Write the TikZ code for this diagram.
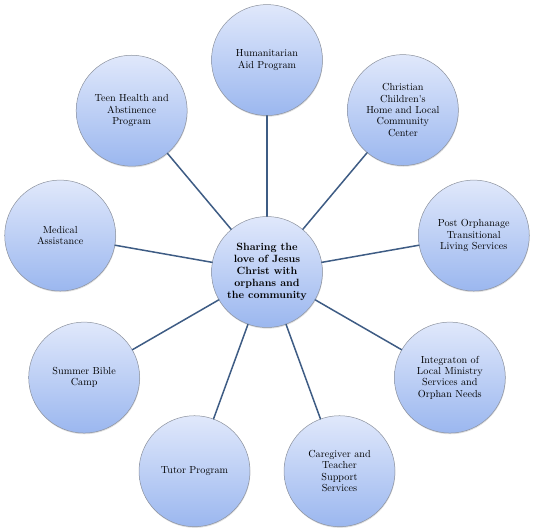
\documentclass[tikz,border=0pt]{standalone}
\usepackage{tikz}
\usetikzlibrary{
  positioning,
  shadows
}

\definecolor{ringtop}{RGB}{224,232,251}
\definecolor{ringbot}{RGB}{155,183,239}
\definecolor{ringedge}{RGB}{140,146,158}
\definecolor{spokeline}{RGB}{62,92,132}

\begin{document}
\begin{tikzpicture}[
  x=1cm, y=1cm,
  line cap=round,
  line join=round,
  hub/.style={
    draw=ringedge,
    circle,
    line width=0.5pt,
    top color=ringtop,
    bottom color=ringbot,
    minimum size=3.9cm,
    inner sep=1pt,
    align=center,
    font=\fontsize{10.5}{12}\selectfont\bfseries,
    drop shadow={shadow xshift=0.4pt, shadow yshift=-1.2pt, opacity=0.25}
  },
  spoke/.style={
    draw=ringedge,
    circle,
    line width=0.5pt,
    top color=ringtop,
    bottom color=ringbot,
    minimum size=3.9cm,
    inner sep=1pt,
    align=center,
    font=\fontsize{10.2}{11.4}\selectfont,
    drop shadow={shadow xshift=0.4pt, shadow yshift=-1.2pt, opacity=0.25}
  },
  link/.style={
    line width=1.5pt,
    draw=spokeline
  }
]

% Frame
\useasboundingbox (-9.384,-9.033) rectangle (9.419,9.560);

% Center
\node[hub] (core) at (0,0)
  {Sharing the\\love of Jesus\\Christ with\\orphans and\\the community};

% Outer ring
\node[spoke] (aid)    at (90:7.45)   {Humanitarian\\Aid Program};
\node[spoke] (home)   at (50:7.43)   {Christian\\Children\textquotesingle s\\Home and Local\\Community\\Center};
\node[spoke] (post)   at (10:7.38)   {Post Orphanage\\Transitional\\Living Services};
\node[spoke] (integ)  at (-30:7.42)  {Integraton of\\Local Ministry\\Services and\\Orphan Needs};
\node[spoke] (care)   at (-70:7.45)  {Caregiver and\\Teacher\\Support\\Services};
\node[spoke] (tutor)  at (-110:7.45) {Tutor Program};
\node[spoke] (bible)  at (-150:7.42) {Summer Bible\\Camp};
\node[spoke] (med)    at (170:7.38)  {Medical\\Assistance};
\node[spoke] (teen)   at (130:7.40)  {Teen Health and\\Abstinence\\Program};

% Spokes
\draw[link] (core) -- (aid);
\draw[link] (core) -- (home);
\draw[link] (core) -- (post);
\draw[link] (core) -- (integ);
\draw[link] (core) -- (care);
\draw[link] (core) -- (tutor);
\draw[link] (core) -- (bible);
\draw[link] (core) -- (med);
\draw[link] (core) -- (teen);

\end{tikzpicture}
\end{document}
